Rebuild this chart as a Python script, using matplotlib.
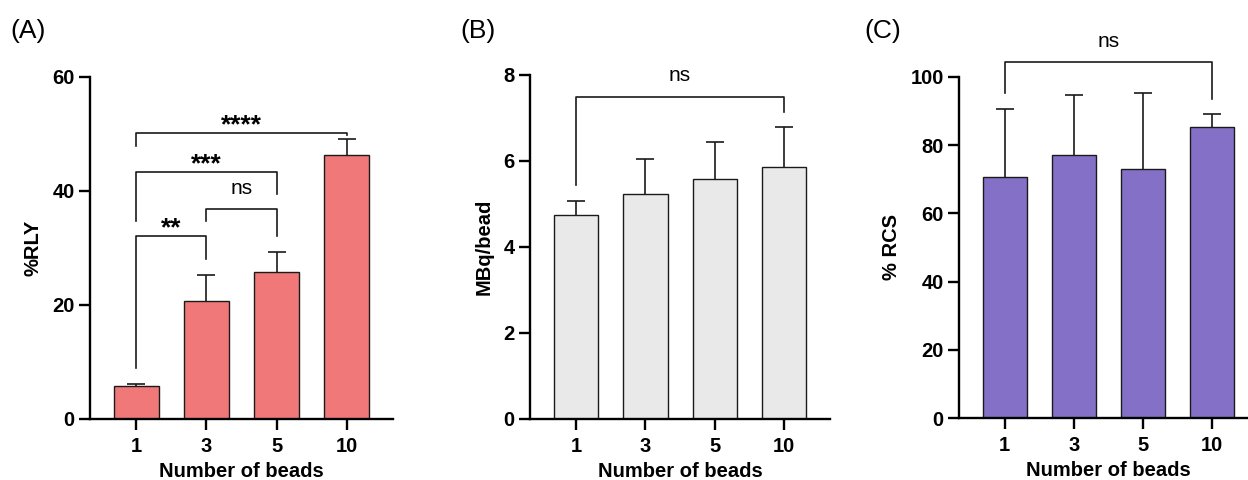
import matplotlib
matplotlib.use("Agg")
import matplotlib.pyplot as plt
import numpy as np

plt.rcParams['font.family'] = ['Liberation Sans', 'DejaVu Sans']

categories = ["1", "3", "5", "10"]

rly_mean = [5.8, 20.6, 25.7, 46.2]
rly_err = [0.35, 4.7, 3.6, 2.9]

mbq_mean = [4.74, 5.23, 5.57, 5.86]
mbq_err = [0.33, 0.82, 0.87, 0.92]

rcs_mean = [70.7, 77.1, 73.0, 85.4]
rcs_err = [19.9, 17.5, 22.2, 3.6]

# significance brackets: (left idx, right idx, bar y, left leg end, right leg end, label)
sig_a = [
    (0, 3, 50.1, 47.9, 49.8, "****"),
    (0, 2, 43.3, 34.7, 39.4, "***"),
    (1, 2, 36.8, 34.7, 32.0, "ns"),
    (0, 1, 32.0, 8.9, 28.0, "**"),
]
sig_b = [(0, 3, 7.5, 5.44, 7.13, "ns")]
sig_c = [(0, 3, 104.2, 95.1, 93.4, "ns")]

colors = ["#F07878", "#E8E9E8", "#8470C6"]

fig = plt.figure(figsize=(12.48, 4.8), dpi=100)
W, H = 1248, 480
axes_px = [(90, 393, 76.7, 419), (530, 830, 75, 419), (959, 1258, 76.7, 418.3)]
axs = []
for (l, r, t, b) in axes_px:
    axs.append(fig.add_axes([l / W, 1 - b / H, (r - l) / W, (b - t) / H]))

panels = [
    (axs[0], rly_mean, rly_err, colors[0], "%RLY", (0, 60), [0, 20, 40, 60], sig_a, "(A)"),
    (axs[1], mbq_mean, mbq_err, colors[1], "MBq/bead", (0, 8), [0, 2, 4, 6, 8], sig_b, "(B)"),
    (axs[2], rcs_mean, rcs_err, colors[2], "% RCS", (0, 100), [0, 20, 40, 60, 80, 100], sig_c, "(C)"),
]

label_x = [10, 460, 864]

x = np.arange(len(categories))
for k, (ax, mean, err, col, ylab, ylim, yt, sigs, plabel) in enumerate(panels):
    ax.bar(x, mean, width=0.64, color=col, edgecolor="#1a1a1a", linewidth=1.0, zorder=2)
    eb = ax.errorbar(x, mean, yerr=[np.zeros(len(mean)), err], fmt="none", ecolor="#1a1a1a",
                     elinewidth=1.2, capsize=6.8, capthick=1.2, zorder=1)
    for cl in eb[1]:
        if np.allclose(cl.get_ydata(), mean):
            cl.set_visible(False)
    ax.set_xlim(-0.66, 3.66)
    ax.set_ylim(*ylim)
    ax.set_yticks(yt)
    ax.set_xticks(x)
    ax.set_xticklabels(categories)
    for s in ["top", "right"]:
        ax.spines[s].set_visible(False)
    for s in ["left", "bottom"]:
        ax.spines[s].set_linewidth(1.7)
    ax.tick_params(axis="both", width=1.7, length=8, labelsize=14.5, direction="out")
    ax.tick_params(axis="x", pad=5)
    ax.tick_params(axis="y", pad=3)
    for lb in ax.get_xticklabels() + ax.get_yticklabels():
        lb.set_fontweight("bold")
    ax.set_ylabel(ylab, fontsize=14.5, fontweight="bold", labelpad=7)
    ax.set_xlabel("Number of beads", fontsize=14.5, fontweight="bold", labelpad=4)
    ax.patch.set_alpha(0)

    for (i, j, yb, yl, yr, lab) in sigs:
        ax.plot([x[i], x[i], x[j], x[j]], [yl, yb, yb, yr], color="#1a1a1a", lw=1.2,
                clip_on=False, zorder=3)
        xc = (x[i] + x[j]) / 2
        if lab == "ns":
            ax.annotate(lab, xy=(xc, yb), xytext=(0, 11), textcoords="offset points",
                        ha="center", va="baseline", fontsize=15, annotation_clip=False)
        else:
            ax.annotate(lab, xy=(xc, yb), xytext=(0, 0.5), textcoords="offset points",
                        ha="center", va="baseline", fontsize=19, fontweight="bold",
                        annotation_clip=False)

    fig.text(label_x[k] / W, 1 - 38 / H, plabel, fontsize=19, ha="left", va="baseline")

fig.savefig("out.png", dpi=100)
